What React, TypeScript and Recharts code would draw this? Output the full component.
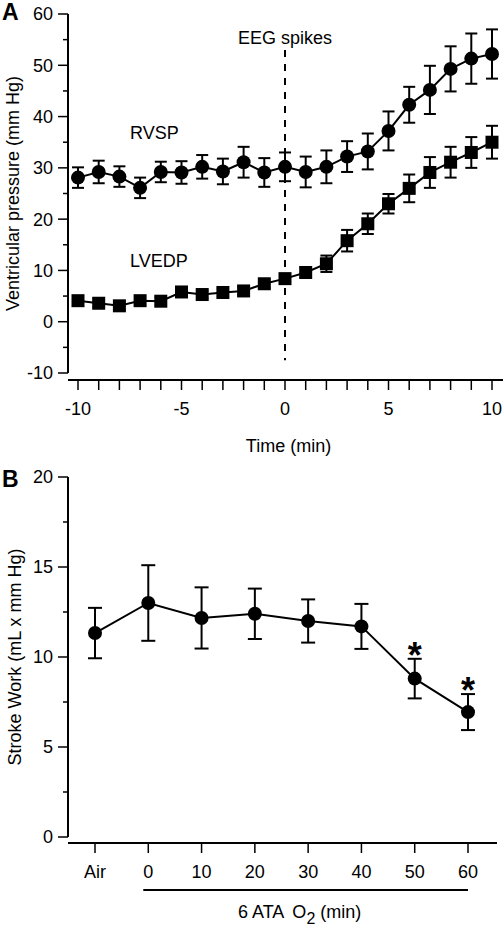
import {
  ErrorBar,
  Label,
  LabelList,
  Line,
  LineChart,
  ReferenceLine,
  XAxis,
  YAxis,
} from 'recharts';

const FONT = '"Liberation Sans", Arial, Helvetica, sans-serif';
const INK = '#000';
const FS = 18;

// Panel A: minutes relative to EEG spikes
const minutes = [-10, -9, -8, -7, -6, -5, -4, -3, -2, -1, 0, 1, 2, 3, 4, 5, 6, 7, 8, 9, 10];
const rvspMean = [28.1, 29.2, 28.3, 26.1, 29.2, 29.1, 30.2, 29.3, 31.1, 29.1, 30.2, 29.2, 30.2, 32.2, 33.2, 37.2, 42.3, 45.2, 49.3, 51.3, 52.2];
const rvspSem = [2.0, 2.2, 2.0, 2.0, 2.0, 2.2, 2.3, 2.5, 3.0, 2.8, 2.8, 3.0, 3.2, 3.0, 3.5, 3.8, 3.5, 4.7, 4.4, 4.9, 4.8];
const lvedpMean = [4.1, 3.6, 3.1, 4.1, 4.0, 5.8, 5.3, 5.7, 6.0, 7.4, 8.4, 9.6, 11.3, 15.8, 19.1, 23.0, 26.0, 29.1, 31.1, 33.0, 35.0];
const lvedpSem = [0.8, 0.8, 0.8, 0.8, 0.8, 0.8, 0.8, 0.8, 0.8, 0.8, 0.9, 1.0, 1.6, 2.1, 2.0, 1.9, 2.7, 3.0, 3.0, 3.0, 3.2];
const pressureTicks = [-10, -5, 0, 5, 10, 15, 20, 25, 30, 35, 40, 45, 50, 55, 60];
const eegSegment = { x: 0, from: 53, to: -7.5 };

// Panel B: stroke work during 6 ATA O2
const stages = ['Air', '0', '10', '20', '30', '40', '50', '60'];
const swMean = [11.33, 13.0, 12.17, 12.4, 12.0, 11.7, 8.8, 6.94];
const swSem = [1.4, 2.1, 1.7, 1.4, 1.2, 1.25, 1.1, 1.0];
const swSignificant = [false, false, false, false, false, false, true, true];
const workTicks = [0, 2.5, 5, 7.5, 10, 12.5, 15, 17.5, 20];

const pressureData = minutes.map((t, i) => ({
  t,
  rvsp: rvspMean[i],
  rvspErr: rvspSem[i],
  lvedp: lvedpMean[i],
  lvedpErr: lvedpSem[i],
}));

const workData = stages.map((stage, i) => ({
  stage,
  sw: swMean[i],
  swErr: swSem[i],
  starAt: swSignificant[i] ? swMean[i] + swSem[i] : null,
}));

const PAD_B = { left: 27, right: 29 };

function makeYTick(majorStep: number) {
  return function YTick(props: any) {
    const { x, y, payload } = props;
    const v = Number(payload.value);
    const major = Math.abs(v % majorStep) < 1e-6;
    const len = major ? 10 : 5;
    return (
      <g>
        <line x1={x - len} x2={x} y1={y} y2={y} stroke={INK} strokeWidth={1.5} />
        {major ? (
          <text
            x={x - len - 5}
            y={y}
            dy="0.36em"
            textAnchor="end"
            fill={INK}
            fontSize={FS}
            fontFamily={FONT}
          >
            {v}
          </text>
        ) : null}
      </g>
    );
  };
}

function yTitle(text: string, baselineX: number, padBottom: number) {
  return function YTitle(props: any) {
    const vb = props.viewBox;
    const cy = vb.y + (vb.height - padBottom) / 2;
    return (
      <text
        x={baselineX}
        y={cy}
        transform={`rotate(-90 ${baselineX} ${cy})`}
        textAnchor="middle"
        fill={INK}
        fontSize={FS}
        fontFamily={FONT}
      >
        {text}
      </text>
    );
  };
}

function TimeTitle(props: any) {
  const { x, y, width } = props.viewBox;
  return (
    <text x={x + width / 2 + 3} y={y + 72} textAnchor="middle" fill={INK} fontSize={FS} fontFamily={FONT}>
      Time (min)
    </text>
  );
}

function O2Title(props: any) {
  const { x, y, width } = props.viewBox;
  const step = (width - PAD_B.left - PAD_B.right) / (stages.length - 1);
  const x0 = x + PAD_B.left + step - 5;
  const x1 = x + width - PAD_B.right;
  return (
    <g>
      <line x1={x0} x2={x1} y1={y + 47} y2={y + 47} stroke={INK} strokeWidth={2} />
      <text x={(x0 + x1) / 2 - 6} y={y + 75} textAnchor="middle" fill={INK} fontSize={FS} fontFamily={FONT}>
        <tspan>6 ATA</tspan>
        <tspan dx={8}>O</tspan>
        <tspan dy={6} fontSize={16}>2</tspan>
        <tspan dy={-6} dx={5}>(min)</tspan>
      </text>
    </g>
  );
}

function SquareDot(props: any) {
  const { cx, cy, index } = props;
  if (cx == null || cy == null) return <g key={`sq-${index}`} />;
  return <rect key={`sq-${index}`} x={cx - 6.5} y={cy - 6.5} width={13} height={13} fill={INK} />;
}

function Star(props: any) {
  const { x, y, value, index } = props;
  if (value == null || x == null || y == null) return null;
  return (
    <text key={`star-${index}`} x={x} y={y + 9} textAnchor="middle" fill={INK} fontSize={36} fontWeight={700} fontFamily={FONT}>
      *
    </text>
  );
}

const tickStyle = { fill: INK, fontSize: FS, fontFamily: FONT };

export default function App() {
  return (
    <div style={{ position: 'absolute', left: 0, top: 0, width: 504, height: 930, background: '#fff' }}>
      <div style={{ position: 'absolute', left: 0, top: 0 }}>
        <LineChart width={504} height={460} data={pressureData} margin={{ top: 14, right: 1, bottom: 0, left: 0 }}>
          <XAxis
            dataKey="t"
            type="number"
            domain={[-10, 10]}
            ticks={minutes}
            interval={0}
            padding={{ left: 10, right: 11 }}
            height={80}
            tickSize={10}
            tickMargin={12}
            tick={tickStyle}
            tickFormatter={(v) => (Number(v) % 5 === 0 ? String(v) : '')}
            tickLine={{ stroke: INK, strokeWidth: 1.5 }}
            axisLine={{ stroke: INK, strokeWidth: 2 }}
          >
            <Label content={TimeTitle} />
          </XAxis>
          <YAxis
            type="number"
            domain={[-10, 60]}
            ticks={pressureTicks}
            interval={0}
            width={68}
            padding={{ bottom: 7 }}
            tickSize={0}
            tickMargin={0}
            tickLine={false}
            tick={makeYTick(10)}
            axisLine={{ stroke: INK, strokeWidth: 2, strokeDasharray: '359 40' }}
          >
            <Label content={yTitle('Ventricular pressure (mm Hg)', 19, 7)} />
          </YAxis>
          <ReferenceLine
            segment={[
              { x: eegSegment.x, y: eegSegment.from },
              { x: eegSegment.x, y: eegSegment.to },
            ]}
            stroke={INK}
            strokeWidth={2}
            strokeDasharray="7 7"
            ifOverflow="visible"
          >
            <Label value="EEG spikes" position="top" offset={6} fill={INK} fontSize={FS} fontFamily={FONT} />
          </ReferenceLine>
          <Line
            dataKey="rvsp"
            stroke={INK}
            strokeWidth={2}
            dot={{ r: 7, fill: INK, stroke: INK, strokeWidth: 0 }}
            activeDot={false}
            isAnimationActive={false}
          >
            <ErrorBar dataKey="rvspErr" direction="y" width={6} stroke={INK} strokeWidth={2} />
          </Line>
          <Line
            dataKey="lvedp"
            stroke={INK}
            strokeWidth={2}
            dot={SquareDot}
            activeDot={false}
            isAnimationActive={false}
          >
            <ErrorBar dataKey="lvedpErr" direction="y" width={6} stroke={INK} strokeWidth={2} />
          </Line>
        </LineChart>
      </div>

      <div style={{ position: 'absolute', left: 0, top: 460 }}>
        <LineChart width={504} height={470} data={workData} margin={{ top: 17, right: 7, bottom: 0, left: 0 }}>
          <XAxis
            dataKey="stage"
            type="category"
            interval={0}
            padding={PAD_B}
            height={87}
            tickSize={10}
            tickMargin={12}
            tick={tickStyle}
            tickLine={{ stroke: INK, strokeWidth: 1.5 }}
            axisLine={{ stroke: INK, strokeWidth: 2 }}
          >
            <Label content={O2Title} />
          </XAxis>
          <YAxis
            type="number"
            domain={[0, 20]}
            ticks={workTicks}
            interval={0}
            width={68}
            padding={{ bottom: 6 }}
            tickSize={0}
            tickMargin={0}
            tickLine={false}
            tick={makeYTick(5)}
            axisLine={{ stroke: INK, strokeWidth: 2, strokeDasharray: '360 40' }}
          >
            <Label content={yTitle('Stroke Work (mL x mm Hg)', 21, 6)} />
          </YAxis>
          <Line
            dataKey="sw"
            stroke={INK}
            strokeWidth={2}
            dot={{ r: 7, fill: INK, stroke: INK, strokeWidth: 0 }}
            activeDot={false}
            isAnimationActive={false}
          >
            <ErrorBar dataKey="swErr" direction="y" width={7} stroke={INK} strokeWidth={2} />
          </Line>
          <Line dataKey="starAt" stroke="none" dot={false} activeDot={false} isAnimationActive={false} legendType="none">
            <LabelList dataKey="starAt" content={Star} />
          </Line>
        </LineChart>
      </div>

      <svg
        width={504}
        height={930}
        style={{ position: 'absolute', left: 0, top: 0, pointerEvents: 'none' }}
        fontFamily={FONT}
      >
        <text x={2} y={20} fontSize={23} fontWeight={700} fill={INK}>A</text>
        <text x={2} y={487} fontSize={23} fontWeight={700} fill={INK}>B</text>
        <text x={130} y={139} fontSize={FS} fill={INK}>RVSP</text>
        <text x={130} y={267} fontSize={FS} fill={INK}>LVEDP</text>
      </svg>
    </div>
  );
}
